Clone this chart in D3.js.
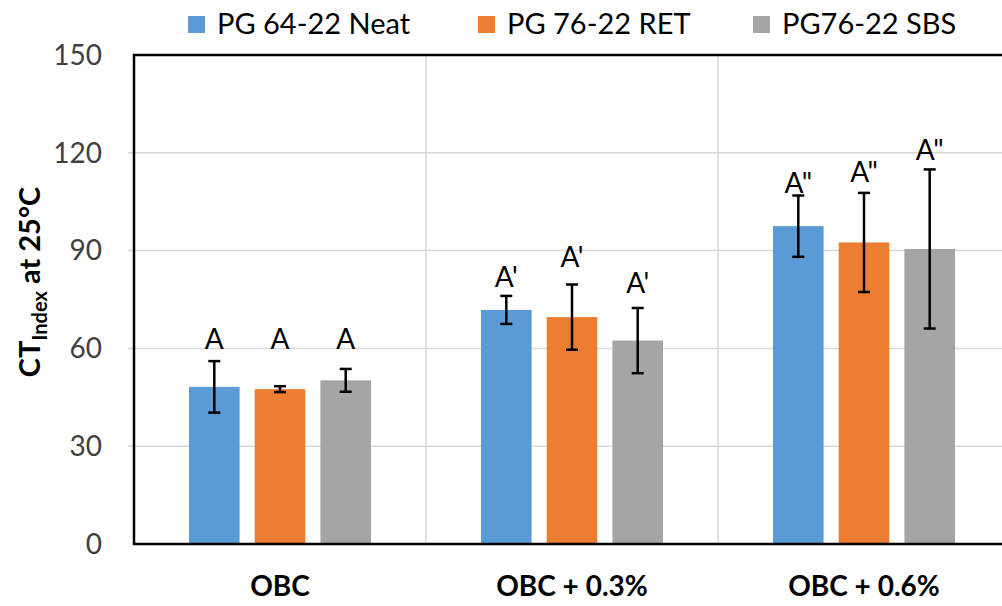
<!DOCTYPE html>
<html>
<head>
<meta charset="utf-8">
<script src="https://cdn.jsdelivr.net/npm/d3@7"></script>
<style>
  body { margin: 0; background: #fff; }
  svg { display: block; font-family: Lato, "Open Sans", sans-serif; }
  .grid line { stroke: #d9d9d9; stroke-width: 1.5; }
  .tick-label { font-size: 28px; fill: #404040; }
  .cat-label { font-size: 28px; font-weight: bold; fill: #000; }
  .legend text { font-size: 29px; fill: #000; }
  .sig text { font-size: 28px; fill: #000; }
</style>
</head>
<body>
<svg id="chart" width="1002" height="606"></svg>
<script>
// Chart data.
var categories = ['OBC', 'OBC + 0.3%', 'OBC + 0.6%'];
var seriesNames = ['PG 64-22 Neat', 'PG 76-22 RET', 'PG76-22 SBS'];
var seriesColors = ['#5b9bd5', '#ed7d31', '#a5a5a5'];

var neatMeans = [48.2, 71.8, 97.5];
var retMeans = [47.5, 69.6, 92.5];
var sbsMeans = [50.2, 62.4, 90.5];

var neatErrors = [7.9, 4.3, 9.4];
var retErrors = [0.9, 10.0, 15.2];
var sbsErrors = [3.5, 10.0, 24.4];

// Significance letters and the value each one sits at.
var neatLetters = ['A', 'A\'', 'A"'];
var retLetters = ['A', 'A\'', 'A"'];
var sbsLetters = ['A', 'A\'', 'A"'];
var neatLetterAt = [59.8, 78.9, 107.8];
var retLetterAt = [59.8, 85.1, 111.1];
var sbsLetterAt = [59.8, 76.9, 117.8];

var yTicks = [0, 30, 60, 90, 120, 150];

var seriesMeans = [neatMeans, retMeans, sbsMeans];
var seriesErrors = [neatErrors, retErrors, sbsErrors];
var seriesLetters = [neatLetters, retLetters, sbsLetters];
var seriesLetterAt = [neatLetterAt, retLetterAt, sbsLetterAt];

var plot = {left: 134, right: 1010, top: 55, bottom: 544};

var svg = d3.select('#chart');

var x = d3.scaleBand()
  .domain(categories)
  .range([plot.left, plot.right]);

var xInner = d3.scaleBand()
  .domain(seriesNames)
  .range([55, 237])
  .paddingInner(0.23);

var y = d3.scaleLinear()
  .domain([0, 150])
  .range([plot.bottom, plot.top]);

// Gridlines
var grid = svg.append('g').classed('grid', true);
grid.selectAll('line.h')
  .data(yTicks.slice(1, -1))
  .enter().append('line')
  .classed('h', true)
  .attr('x1', plot.left - 6)
  .attr('x2', plot.right)
  .attr('y1', function(d) { return y(d); })
  .attr('y2', function(d) { return y(d); });
grid.selectAll('line.v')
  .data(categories.slice(1))
  .enter().append('line')
  .classed('v', true)
  .attr('x1', function(d) { return x(d); })
  .attr('x2', function(d) { return x(d); })
  .attr('y1', plot.top)
  .attr('y2', plot.bottom);

// Y tick labels
svg.append('g').selectAll('text')
  .data(yTicks)
  .enter().append('text')
  .classed('tick-label', true)
  .attr('x', 102)
  .attr('y', function(d) { return y(d); })
  .attr('dy', '0.35em')
  .attr('text-anchor', 'end')
  .text(function(d) { return d; });

// Bars
var groups = svg.append('g').selectAll('g')
  .data(seriesNames)
  .enter().append('g');

groups.each(function(name, si) {
  var g = d3.select(this);
  var rows = categories.map(function(cat, ci) {
    return {
      cat: cat,
      mean: seriesMeans[si][ci],
      err: seriesErrors[si][ci],
      letter: seriesLetters[si][ci],
      letterAt: seriesLetterAt[si][ci]
    };
  });
  var cx = function(d) { return x(d.cat) + xInner(name) + xInner.bandwidth() / 2; };

  g.selectAll('rect')
    .data(rows)
    .enter().append('rect')
    .attr('x', function(d) { return x(d.cat) + xInner(name); })
    .attr('y', function(d) { return y(d.mean); })
    .attr('width', xInner.bandwidth())
    .attr('height', function(d) { return y(0) - y(d.mean); })
    .attr('fill', seriesColors[si]);

  // error bars
  var eb = g.selectAll('g.err')
    .data(rows)
    .enter().append('g')
    .classed('err', true)
    .attr('stroke', '#000')
    .attr('stroke-width', 2.5);
  eb.append('line')
    .attr('x1', cx).attr('x2', cx)
    .attr('y1', function(d) { return y(d.mean + d.err); })
    .attr('y2', function(d) { return y(d.mean - d.err); });
  eb.append('line')
    .attr('x1', function(d) { return cx(d) - 6; })
    .attr('x2', function(d) { return cx(d) + 6; })
    .attr('y1', function(d) { return y(d.mean + d.err); })
    .attr('y2', function(d) { return y(d.mean + d.err); });
  eb.append('line')
    .attr('x1', function(d) { return cx(d) - 6; })
    .attr('x2', function(d) { return cx(d) + 6; })
    .attr('y1', function(d) { return y(d.mean - d.err); })
    .attr('y2', function(d) { return y(d.mean - d.err); });

  // significance letters
  g.append('g').classed('sig', true).selectAll('text')
    .data(rows)
    .enter().append('text')
    .attr('x', cx)
    .attr('y', function(d) { return y(d.letterAt); })
    .attr('text-anchor', 'middle')
    .text(function(d) { return d.letter; });
});

// Plot frame (right side runs off the canvas)
svg.append('rect')
  .attr('x', plot.left)
  .attr('y', plot.top)
  .attr('width', plot.right - plot.left)
  .attr('height', plot.bottom - plot.top)
  .attr('fill', 'none')
  .attr('stroke', '#000')
  .attr('stroke-width', 2.5);

// Category labels
svg.append('g').selectAll('text')
  .data(categories)
  .enter().append('text')
  .classed('cat-label', true)
  .attr('x', function(d) { return x(d) + x.bandwidth() / 2; })
  .attr('y', 596)
  .attr('text-anchor', 'middle')
  .text(function(d) { return d; });

// Y axis title
var title = svg.append('text')
  .attr('transform', 'translate(40,282) rotate(-90)')
  .attr('text-anchor', 'middle')
  .style('font-size', '29px')
  .style('font-weight', 'bold');
title.append('tspan').text('CT');
title.append('tspan').attr('dy', 7).style('font-size', '20px').text('Index');
title.append('tspan').attr('dy', -7).text(' at 25°C');

// Legend
var legendX = [188, 478, 753];
var legend = svg.append('g').classed('legend', true).selectAll('g')
  .data(seriesNames)
  .enter().append('g')
  .attr('transform', function(d, i) { return 'translate(' + legendX[i] + ',0)'; });
legend.append('rect')
  .attr('x', 0).attr('y', 16)
  .attr('width', 17).attr('height', 17)
  .attr('fill', function(d, i) { return seriesColors[i]; });
legend.append('text')
  .attr('x', 29).attr('y', 34)
  .text(function(d) { return d; });
</script>
</body>
</html>
